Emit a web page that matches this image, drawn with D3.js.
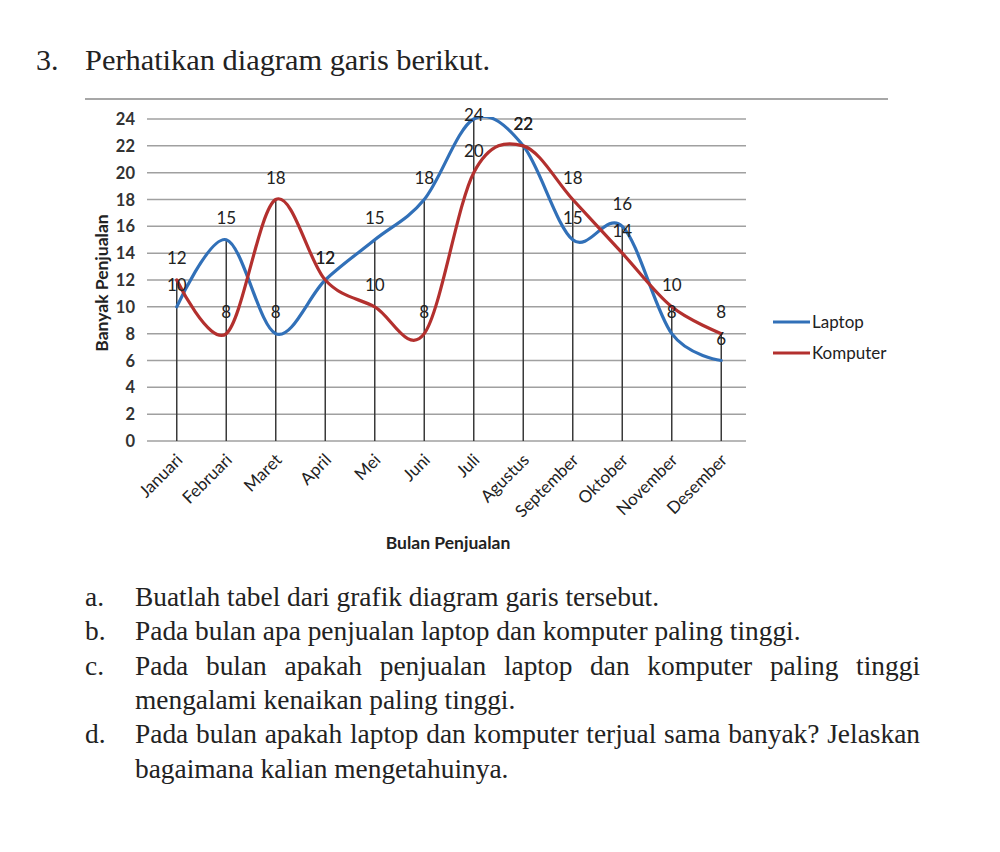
<!DOCTYPE html>
<html>
<head>
<meta charset="utf-8">
<script src="https://cdn.jsdelivr.net/npm/d3@7"></script>
<style>
  html, body { margin: 0; padding: 0; background: #fff; }
  svg { display: block; }
</style>
</head>
<body>
<svg id="chart" width="1000" height="852"></svg>
<script>
// ---- data ----
const months = ["Januari","Februari","Maret","April","Mei","Juni","Juli","Agustus","September","Oktober","November","Desember"];
const laptop   = [10, 15, 8, 12, 15, 18, 24, 22, 15, 16, 8, 6];
const komputer = [12, 8, 18, 12, 10, 8, 20, 22, 18, 14, 10, 8];
const yTickValues = [0, 2, 4, 6, 8, 10, 12, 14, 16, 18, 20, 22, 24];
const seriesNames = ["Laptop", "Komputer"];
const yTitle = "Banyak Penjualan";
const xTitle = "Bulan Penjualan";
const heading = ["3.", "Perhatikan diagram garis berikut."];
const questionLabels = ["a.", "b.", "c.", "", "d.", ""];
const questionLines = [
  "Buatlah tabel dari grafik diagram garis tersebut.",
  "Pada bulan apa penjualan laptop dan komputer paling tinggi.",
  "Pada bulan apakah penjualan laptop dan komputer paling tinggi",
  "mengalami kenaikan paling tinggi.",
  "Pada bulan apakah laptop dan komputer terjual sama banyak? Jelaskan",
  "bagaimana kalian mengetahuinya."
];
const questionJustified = [false, false, true, false, true, false];

// ---- layout ----
const svg = d3.select("#chart");
const serif = "'Liberation Serif', 'Times New Roman', serif";
const sans = "Lato, 'Open Sans', sans-serif";
const colors = ["#3170b8", "#b3302e"];

// heading
svg.append("text").attr("x", 36).attr("y", 70).attr("font-family", serif)
  .attr("font-size", 30).attr("fill", "#222").text(heading[0]);
svg.append("text").attr("x", 85).attr("y", 70).attr("font-family", serif)
  .attr("font-size", 30).attr("fill", "#222")
  .attr("textLength", 405).attr("lengthAdjust", "spacingAndGlyphs").text(heading[1]);

// top rule
svg.append("line").attr("x1", 85).attr("x2", 888).attr("y1", 99).attr("y2", 99)
  .attr("stroke", "#8a8a8a").attr("stroke-width", 1.5);

// scales
const plotLeft = 147, plotRight = 746;
const x = d3.scalePoint().domain(months).range([152, 746]).padding(0.5);
const y = d3.scaleLinear().domain([0, 24]).range([441, 119]);

const g = svg.append("g");

// gridlines
g.selectAll("line.grid").data(yTickValues).join("line")
  .attr("class", "grid")
  .attr("x1", plotLeft).attr("x2", plotRight)
  .attr("y1", d => y(d)).attr("y2", d => y(d))
  .attr("stroke", "#a0a0a0").attr("stroke-width", 1.5);

// y tick labels
g.selectAll("text.ytick").data(yTickValues).join("text")
  .attr("class", "ytick")
  .attr("x", 135).attr("y", d => y(d) + 6)
  .attr("text-anchor", "end")
  .attr("font-family", sans).attr("font-weight", "bold").attr("font-size", 16.5)
  .attr("fill", "#333").text(d => d);

// y title
svg.append("text")
  .attr("transform", "translate(108,283) rotate(-90)")
  .attr("text-anchor", "middle")
  .attr("font-family", sans).attr("font-weight", "bold").attr("font-size", 17.5)
  .attr("fill", "#222").text(yTitle);

// drop lines
g.selectAll("line.drop").data(months).join("line")
  .attr("class", "drop")
  .attr("x1", d => x(d)).attr("x2", d => x(d))
  .attr("y1", (d, i) => y(Math.max(laptop[i], komputer[i])))
  .attr("y2", y(0))
  .attr("stroke", "#3a3a3a").attr("stroke-width", 1.5);

// x labels
g.selectAll("text.xlab").data(months).join("text")
  .attr("class", "xlab")
  .attr("transform", d => `translate(${x(d) + 7},461) rotate(-45)`)
  .attr("text-anchor", "end")
  .attr("font-family", sans).attr("font-size", 17)
  .attr("fill", "#222").text(d => d);

// x title
svg.append("text").attr("x", 448).attr("y", 549).attr("text-anchor", "middle")
  .attr("font-family", sans).attr("font-weight", "bold").attr("font-size", 17.5)
  .attr("fill", "#222").text(xTitle);

// clip
svg.append("clipPath").attr("id", "plotclip").append("rect")
  .attr("x", plotLeft).attr("y", 117).attr("width", plotRight - plotLeft).attr("height", 330);

const line = d3.line()
  .x((d, i) => x(months[i]))
  .y(d => y(d))
  .curve(d3.curveCardinal.tension(0));

const seriesData = [laptop, komputer];
g.append("g").attr("clip-path", "url(#plotclip)")
  .selectAll("path.series").data(seriesData).join("path")
  .attr("class", "series")
  .attr("d", d => line(d))
  .attr("fill", "none")
  .attr("stroke", (d, i) => colors[i])
  .attr("stroke-width", 3.2)
  .attr("stroke-linecap", "round");

// data labels
seriesData.forEach((vals, si) => {
  g.selectAll("text.dl" + si).data(vals).join("text")
    .attr("class", "dl" + si)
    .attr("x", (d, i) => x(months[i]))
    .attr("y", d => Math.max(y(d) - 16, 121))
    .attr("text-anchor", "middle")
    .attr("font-family", sans).attr("font-size", 17)
    .attr("fill", "#222").text(d => d);
});

// legend
const leg = svg.append("g");
seriesNames.forEach((name, i) => {
  const ly = 322 + i * 31;
  leg.append("line").attr("x1", 773).attr("x2", 810).attr("y1", ly).attr("y2", ly)
    .attr("stroke", colors[i]).attr("stroke-width", 3.2);
  leg.append("text").attr("x", 812).attr("y", ly + 6)
    .attr("font-family", sans).attr("font-size", 17)
    .attr("fill", "#222").text(name);
});

// questions
const qTop = 606, qStep = 34.3, qRight = 920, qLeft = 135;
questionLines.forEach((t, i) => {
  const yy = qTop + i * qStep;
  if (questionLabels[i]) {
    svg.append("text").attr("x", 85).attr("y", yy).attr("font-family", serif)
      .attr("font-size", 27.4).attr("fill", "#222").text(questionLabels[i]);
  }
  const tx = svg.append("text").attr("x", qLeft).attr("y", yy).attr("font-family", serif)
    .attr("font-size", 27.4).attr("fill", "#222").text(t);
  if (questionJustified[i]) {
    const w = tx.node().getComputedTextLength();
    const gaps = t.split(" ").length - 1;
    tx.attr("word-spacing", ((qRight - qLeft) - w) / gaps);
  }
});
</script>
</body>
</html>
